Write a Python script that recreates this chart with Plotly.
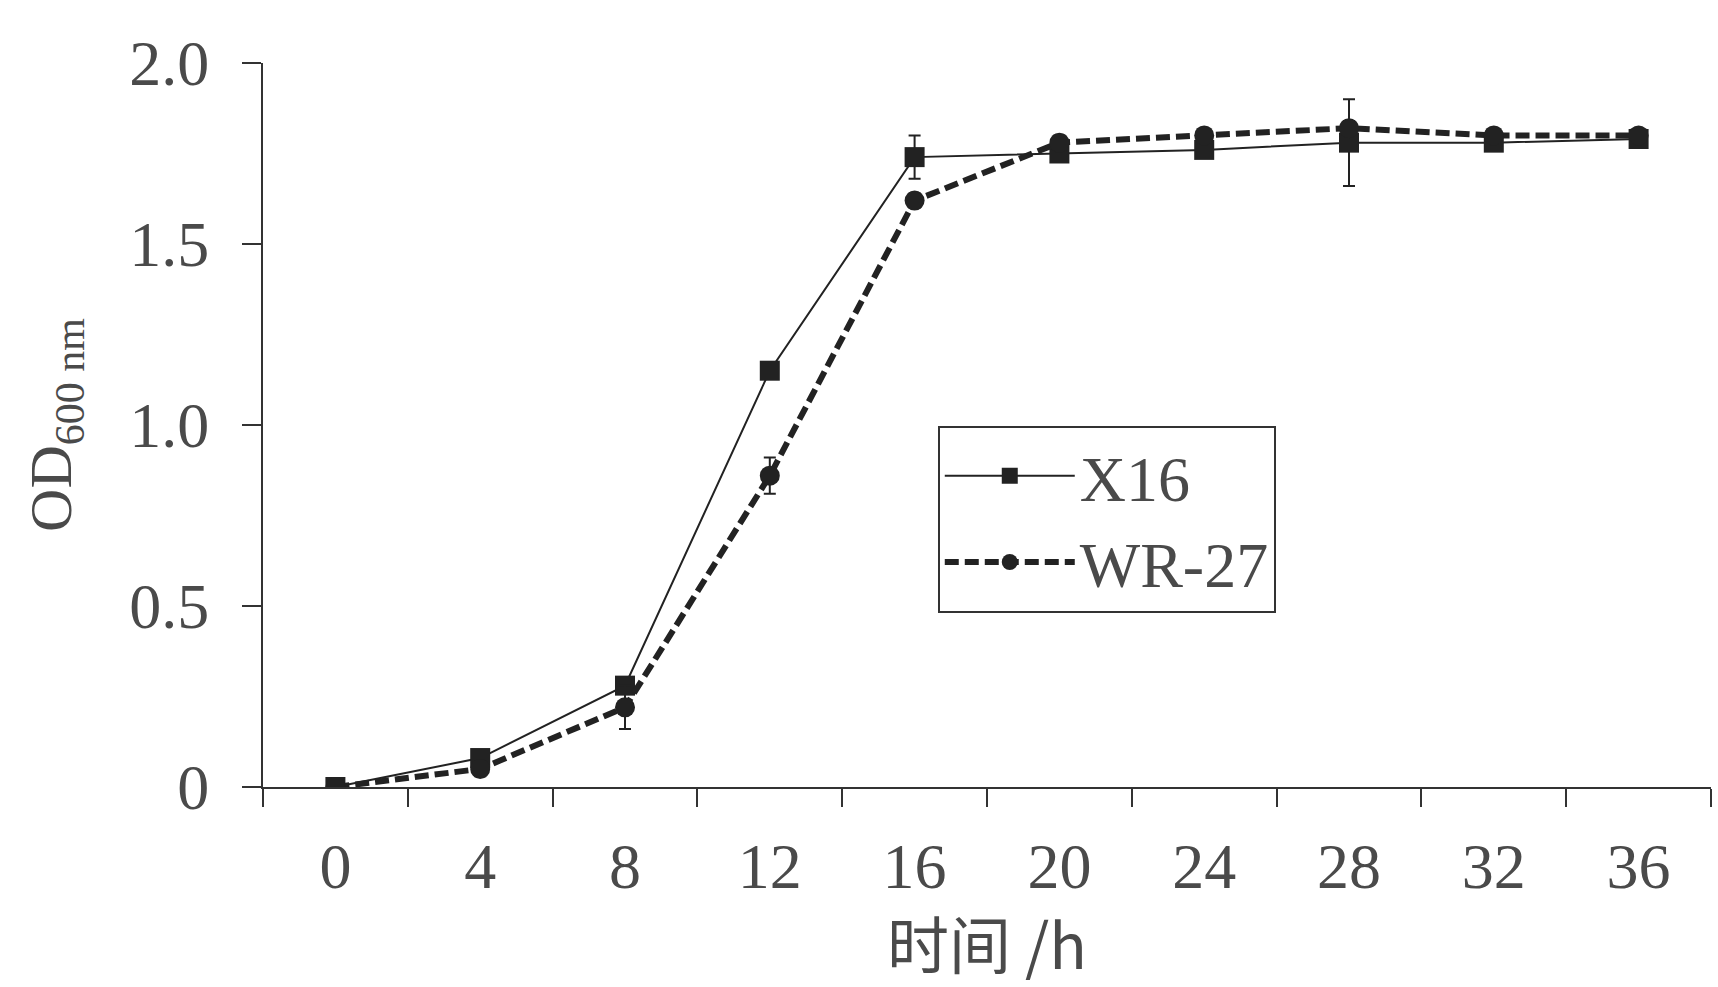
import plotly.graph_objects as go

time_h = ["0", "4", "8", "12", "16", "20", "24", "28", "32", "36"]
x16 = [0.00, 0.08, 0.28, 1.15, 1.74, 1.75, 1.76, 1.78, 1.78, 1.79]
x16_err = [0.01, 0.01, 0.02, 0.02, 0.06, 0.02, 0.02, 0.12, 0.01, 0.01]
wr27 = [0.00, 0.05, 0.22, 0.86, 1.62, 1.78, 1.80, 1.82, 1.80, 1.80]
wr27_err = [0.01, 0.02, 0.06, 0.05, 0.02, 0.02, 0.01, 0.02, 0.01, 0.01]
y_ticks = [0, 0.5, 1.0, 1.5, 2.0]
y_ticktext = ["0", "0.5", "1.0", "1.5", "2.0"]

INK = "#222222"
TXT = "#4a4a4a"
SERIF = "Liberation Serif, Times New Roman, serif"

fig = go.Figure()
fig.add_trace(go.Scatter(
    x=time_h, y=x16, name="X16", mode="lines+markers",
    line=dict(color=INK, width=2),
    marker=dict(symbol="square", size=20, color=INK),
    error_y=dict(type="data", array=x16_err, color=INK, thickness=2, width=6),
))
fig.add_trace(go.Scatter(
    x=time_h, y=wr27, name="WR-27", mode="lines+markers",
    line=dict(color=INK, width=6, dash="14px,6px"),
    marker=dict(symbol="circle", size=20, color=INK),
    error_y=dict(type="data", array=wr27_err, color=INK, thickness=2, width=6),
))

fig.update_layout(
    width=1718, height=987,
    margin=dict(l=263, r=7, t=63, b=200),
    paper_bgcolor="white", plot_bgcolor="white",
    showlegend=True,
    legend=dict(
        x=0.466, y=0.499, xanchor="left", yanchor="top",
        bordercolor="#333333", borderwidth=2, bgcolor="white",
        font=dict(family=SERIF, size=64, color=TXT),
        itemwidth=130, tracegroupgap=0,
    ),
    xaxis=dict(
        type="category", range=[-0.5, 9.5],
        tickson="boundaries", ticks="outside", ticklen=18, tickwidth=2, tickcolor="#333333",
        showline=True, linecolor="#333333", linewidth=2,
        showgrid=False, zeroline=False,
        tickfont=dict(family=SERIF, size=64, color=TXT),
        ticklabelstandoff=22,
        title=dict(text="时间 /h", font=dict(family="Noto Sans CJK SC", size=62, color=TXT), standoff=10),
    ),
    yaxis=dict(
        range=[0, 2.0], tickmode="array", tickvals=y_ticks, ticktext=y_ticktext,
        ticks="outside", ticklen=19, tickwidth=2, tickcolor="#333333",
        showline=True, linecolor="#333333", linewidth=2,
        showgrid=False, zeroline=False,
        tickfont=dict(family=SERIF, size=64, color=TXT),
        ticklabelstandoff=20,
        title=dict(text="OD<sub>600 nm</sub>", font=dict(family=SERIF, size=60, color=TXT), standoff=38),
    ),
)

fig.write_html("out.html")
